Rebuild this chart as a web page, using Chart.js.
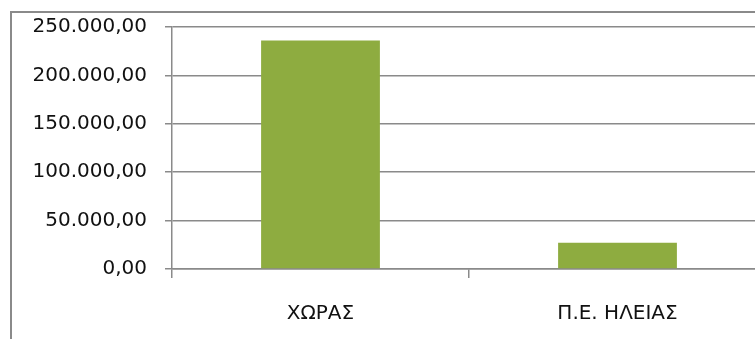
<!DOCTYPE html>
<html>
<head>
<meta charset="utf-8">
<script src="https://cdn.jsdelivr.net/npm/chart.js@4"></script>
<style>
  html, body { margin: 0; padding: 0; background: #fff; overflow: hidden; width: 755px; height: 339px; }
  #frame { position: absolute; left: 10px; top: 11px; width: 800px; height: 400px; border-left: 2px solid #8a8a8a; border-top: 2px solid #8a8a8a; }
  #wrap { position: absolute; left: 0; top: 0; width: 766px; height: 339px; }
</style>
</head>
<body>
<div id="frame"></div>
<div id="wrap"><canvas id="c"></canvas></div>
<script>
const categories = ["ΧΩΡΑΣ", "Π.Ε. ΗΛΕΙΑΣ"];
const values = [236000, 27200];
const yTicks = [0, 50000, 100000, 150000, 200000, 250000];

function fmtGreek(v) {
  const s = Math.round(v).toString().replace(/\B(?=(\d{3})+(?!\d))/g, ".");
  return s + ",00";
}

new Chart(document.getElementById("c"), {
  type: "bar",
  data: {
    labels: categories,
    datasets: [{
      data: values,
      backgroundColor: "#8EAC40",
      borderWidth: 0,
      barPercentage: 0.4,
      categoryPercentage: 1.0
    }]
  },
  options: {
    responsive: true,
    maintainAspectRatio: false,
    animation: false,
    events: [],
    layout: { padding: { top: 27, left: 0, right: 0, bottom: 0 } },
    plugins: { legend: { display: false }, tooltip: { enabled: false } },
    scales: {
      x: {
        offset: true,
        grid: { display: true, drawOnChartArea: false, drawTicks: true, tickLength: 9, color: "#8a8a8a", lineWidth: 1.5, offset: true },
        border: { display: true, color: "#8a8a8a", width: 1.5 },
        ticks: { color: "#111", font: { family: "DejaVu Sans", size: 20 }, padding: 24, maxRotation: 0 },
        afterFit: (s) => { s.height = 70; s.paddingLeft = 0; s.paddingRight = 0; }
      },
      y: {
        min: 0, max: 250000,
        afterBuildTicks: (s) => { s.ticks = yTicks.map(v => ({ value: v })); },
        grid: { color: "#8a8a8a", lineWidth: 1.5, tickLength: 7 },
        border: { display: true, color: "#8a8a8a", width: 1.5 },
        ticks: { color: "#111", font: { family: "DejaVu Sans", size: 20 }, padding: 18, callback: (v) => fmtGreek(v) },
        afterFit: (s) => { s.width = 172; s.paddingTop = 0; s.paddingBottom = 0; }
      }
    }
  }
});
</script>
</body>
</html>
